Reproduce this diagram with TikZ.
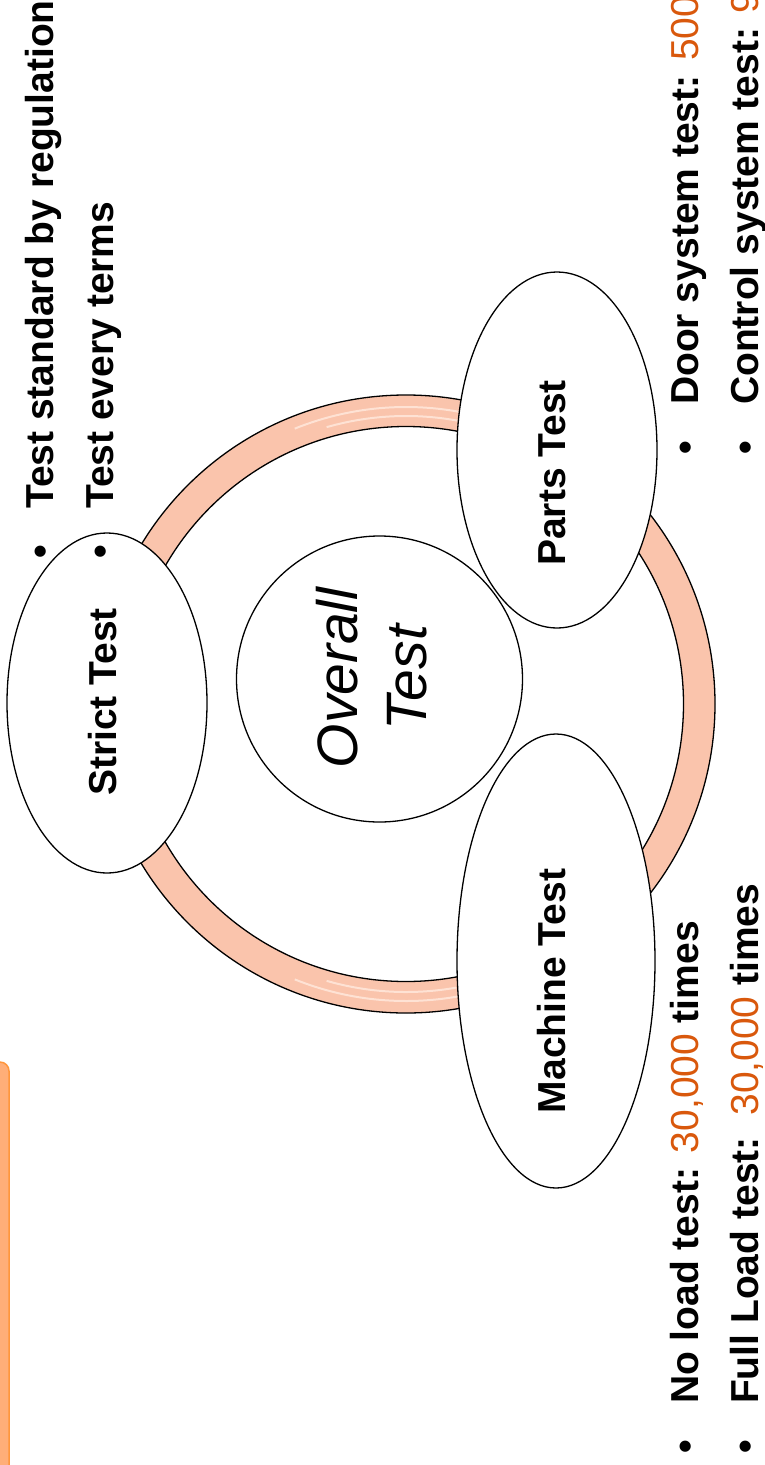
\documentclass[tikz,border=0pt]{standalone}
\usepackage{fontspec}
\setmainfont{Liberation Sans}
\usetikzlibrary{shapes.geometric}
\definecolor{ringpink}{RGB}{250,196,172}
\definecolor{ringlight}{RGB}{254,226,212}
\definecolor{numorange}{RGB}{217,88,12}
\definecolor{barfill}{RGB}{255,174,120}
\definecolor{barline}{RGB}{255,150,60}
\begin{document}
\begin{tikzpicture}[x=1pt,y=-1pt,
  ovalbox/.style={ellipse, draw=black, line width=1.3pt, fill=white, inner sep=0pt, rotate=90},
  ovallabel/.style={font=\fontsize{39}{47}\selectfont\bfseries, rotate=90, inner sep=0pt},
  centrecircle/.style={circle, draw=black, line width=1.3pt, fill=white, minimum size=286pt, inner sep=0pt},
  centretext/.style={font=\fontsize{57}{69}\selectfont\itshape, align=center, rotate=90, inner sep=0pt},
  bullettext/.style={font=\fontsize{39}{47}\selectfont\bfseries, rotate=90, anchor=base west, inner sep=0pt},
  ringedge/.style={draw=black, line width=1.3pt},
  stripe/.style={ringlight, line width=2pt}]
\useasboundingbox (0,0) rectangle (764,1465);
\clip (0,0) rectangle (764,1465);
% orange bar at the left edge
\draw[barline, fill=barfill, line width=1.5pt, rounded corners=9pt] (-30,1062) rectangle (9,1520);
% ring
\coordinate (ringc) at (406,704);
\fill[ringpink, even odd rule] (ringc) circle[radius=309pt] (ringc) circle[radius=277.5pt];
\draw[stripe] (ringc) ++(76:297pt) arc[start angle=76, end angle=112, radius=297pt];
\draw[stripe] (ringc) ++(78:288pt) arc[start angle=78, end angle=106, radius=288pt];
\draw[stripe] (ringc) ++(-112:297pt) arc[start angle=-112, end angle=-78, radius=297pt];
\draw[stripe] (ringc) ++(-106:288pt) arc[start angle=-106, end angle=-80, radius=288pt];
\draw[ringedge] (ringc) circle[radius=309pt];
\draw[ringedge] (ringc) circle[radius=277.5pt];
% centre
\node[centrecircle] (overall) at (379.5,679) {};
\node[centretext] (overalllabel) at (372,678) {Overall\\Test};
% three ellipses
\node[ovalbox, minimum width=340pt, minimum height=200pt] (strict) at (107,703) {};
\node[ovalbox, minimum width=356pt, minimum height=200pt] (parts) at (557,450) {};
\node[ovalbox, minimum width=454pt, minimum height=198pt] (machine) at (556,961) {};
\node[ovallabel] (strictlabel) at (103,702) {Strict Test};
\node[ovallabel] (partslabel) at (552,473) {Parts Test};
\node[ovallabel] (machinelabel) at (552,991) {Machine Test};
% bullet texts
\node[bullettext] (b1) at (53,559) {\makebox[50pt][l]{\textbullet}Test standard by regulation};
\node[bullettext] (b2) at (113,559) {\makebox[50pt][l]{\textbullet}Test every terms};
\node[bullettext] (b3) at (698,455) {\makebox[50pt][l]{\textbullet}Door system test: \textcolor{numorange}{\mdseries 500}};
\node[bullettext] (b4) at (758,455) {\makebox[50pt][l]{\textbullet}Control system test: \textcolor{numorange}{\mdseries 9}};
\node[bullettext] (b5) at (698,1454) {\makebox[50pt][l]{\textbullet}No load test: \textcolor{numorange}{\mdseries 30,000} times};
\node[bullettext] (b6) at (758,1454) {\makebox[50pt][l]{\textbullet}Full Load test:\ \ \textcolor{numorange}{\mdseries 30,000} times};
\end{tikzpicture}
\end{document}
